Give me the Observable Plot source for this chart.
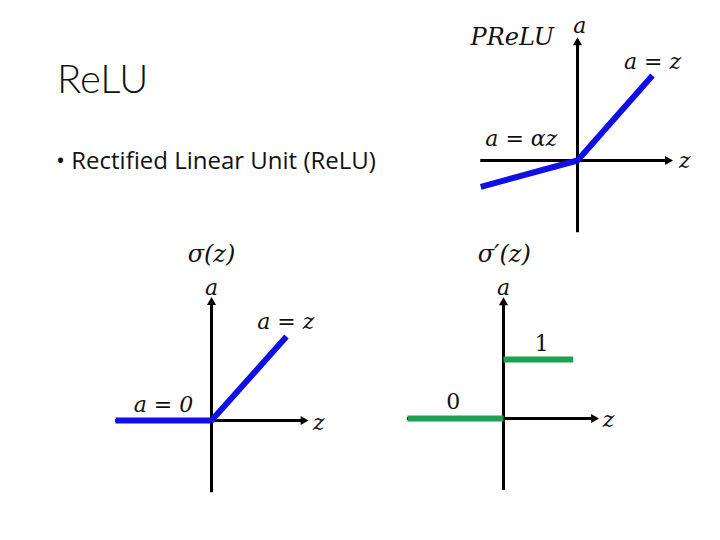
<!DOCTYPE html>
<html>
<head>
<meta charset="utf-8">
<script src="https://cdn.jsdelivr.net/npm/d3@7"></script>
<script src="https://cdn.jsdelivr.net/npm/@observablehq/plot@0.6"></script>
<style>
  html, body { margin: 0; padding: 0; background: #fff; }
  #page { position: relative; width: 720px; height: 540px; overflow: hidden; background: #fff; }
  #title { position: absolute; left: 57px; top: 58px; font-family: Lato, "Open Sans", sans-serif; font-weight: 300; font-size: 40px; color: #111; line-height: 1; }
  #bullet { position: absolute; left: 56px; top: 148px; font-family: "Open Sans", Lato, sans-serif; font-size: 24px; font-weight: 500; color: #111; line-height: 1; white-space: nowrap; }
  #page svg { position: absolute; left: 0; top: 0; overflow: visible; background: transparent; }
</style>
</head>
<body>
<div id="page">
  <div id="title">ReLU</div>
  <div id="bullet">• Rectified Linear Unit (ReLU)</div>
</div>
<script>
// ---------- data ----------
// PReLU panel
const preluZ = [-1.29, 0, 1];
const preluA = [-0.31, 0, 1];
const preluZAxis = [-1.29, 1.23];
const preluAAxis = [-0.85, 1.41];
const preluLabelText = ["PReLU", "a", "a = z", "a = αz", "z"];
const preluLabelZ = [-0.87, 0.03, 1.0, -0.75, 1.43];
const preluLabelA = [1.45, 1.58, 1.16, 0.25, -0.01];

// ReLU panel
const reluZ = [-1.28, 0, 1];
const reluA = [0, 0, 1];
const reluZAxis = [-1.28, 1.25];
const reluAAxis = [-0.86, 1.43];
const reluLabelText = ["σ(z)", "a", "a = z", "a = 0", "z"];
const reluLabelZ = [0.0, 0, 0.99, -0.64, 1.43];
const reluLabelA = [1.98, 1.58, 1.17, 0.18, -0.03];

// Derivative panel
const derivZ = [-1.28, 0, 0, 0.93];
const derivA = [0, 0, 1, 1];
const derivSeg = ["z<0", "z<0", "z>0", "z>0"];
const derivZAxis = [-1.28, 1.23];
const derivAAxis = [-1.22, 2.0];
const derivLabelText = ["σ′(z)", "a", "1", "0", "z"];
const derivLabelZ = [0.01, 0, 0.51, -0.67, 1.4];
const derivLabelA = [2.78, 2.22, 1.27, 0.28, -0.03];

// ---------- drawing ----------
const BLUE = "#1010e4";
const GREEN = "#1f9f52";
const MATH_FONT = "'DejaVu Serif', 'Liberation Serif', serif";

function panel({zs, as, seg, zAxis, aAxis, labels, lz, la, color, origin, sx, sy, labelSizes, labelStyles}) {
  const [ox, oy] = origin;
  const pts = zs.map((z, i) => ({z, a: as[i], seg: seg ? seg[i] : "s"}));
  const lab = labels.map((t, i) => ({t, z: lz[i], a: la[i], size: labelSizes[i], style: labelStyles[i]}));
  const svg = Plot.plot({
    width: 720,
    height: 540,
    margin: 0,
    x: {axis: null, domain: zAxis, range: [ox + sx * zAxis[0], ox + sx * zAxis[1]]},
    y: {axis: null, domain: aAxis, range: [oy - sy * aAxis[0], oy - sy * aAxis[1]]},
    marks: [
      Plot.ruleY([0], {x1: zAxis[0], x2: zAxis[1], stroke: "#000", strokeWidth: 3}),
      Plot.ruleX([0], {y1: aAxis[0], y2: aAxis[1], stroke: "#000", strokeWidth: 3}),
      Plot.dot([0], {x: zAxis[1], y: 0, symbol: "triangle", r: 3.4, fill: "#000", stroke: null, rotate: 90, dx: -2}),
      Plot.dot([0], {x: 0, y: aAxis[1], symbol: "triangle", r: 3.4, fill: "#000", stroke: null, rotate: 0, dy: 2}),
      Plot.line(pts, {x: "z", y: "a", z: "seg", stroke: color, strokeWidth: 6, strokeLinejoin: "round", strokeLinecap: "butt"}),
      ...lab.map(d => Plot.text([d], {
        x: "z", y: "a", text: "t", fill: "#111",
        fontFamily: MATH_FONT, fontStyle: d.style, fontSize: d.size,
        textAnchor: "middle", lineAnchor: "middle"
      }))
    ]
  });
  document.getElementById("page").appendChild(svg);
}

panel({zs: preluZ, as: preluA, zAxis: preluZAxis, aAxis: preluAAxis,
  labels: preluLabelText, lz: preluLabelZ, la: preluLabelA, color: BLUE,
  origin: [577, 160], sx: 75, sy: 85, labelSizes: [24, 22, 22, 22, 22],
  labelStyles: ["italic", "italic", "italic", "italic", "italic"]});

panel({zs: reluZ, as: reluA, zAxis: reluZAxis, aAxis: reluAAxis,
  labels: reluLabelText, lz: reluLabelZ, la: reluLabelA, color: BLUE,
  origin: [211, 420], sx: 75, sy: 84, labelSizes: [24, 22, 22, 22, 22],
  labelStyles: ["italic", "italic", "italic", "italic", "italic"]});

panel({zs: derivZ, as: derivA, seg: derivSeg, zAxis: derivZAxis, aAxis: derivAAxis,
  labels: derivLabelText, lz: derivLabelZ, la: derivLabelA, color: GREEN,
  origin: [503, 418], sx: 75, sy: 59, labelSizes: [24, 22, 22, 22, 22],
  labelStyles: ["italic", "italic", "normal", "normal", "italic"]});
</script>
</body>
</html>
